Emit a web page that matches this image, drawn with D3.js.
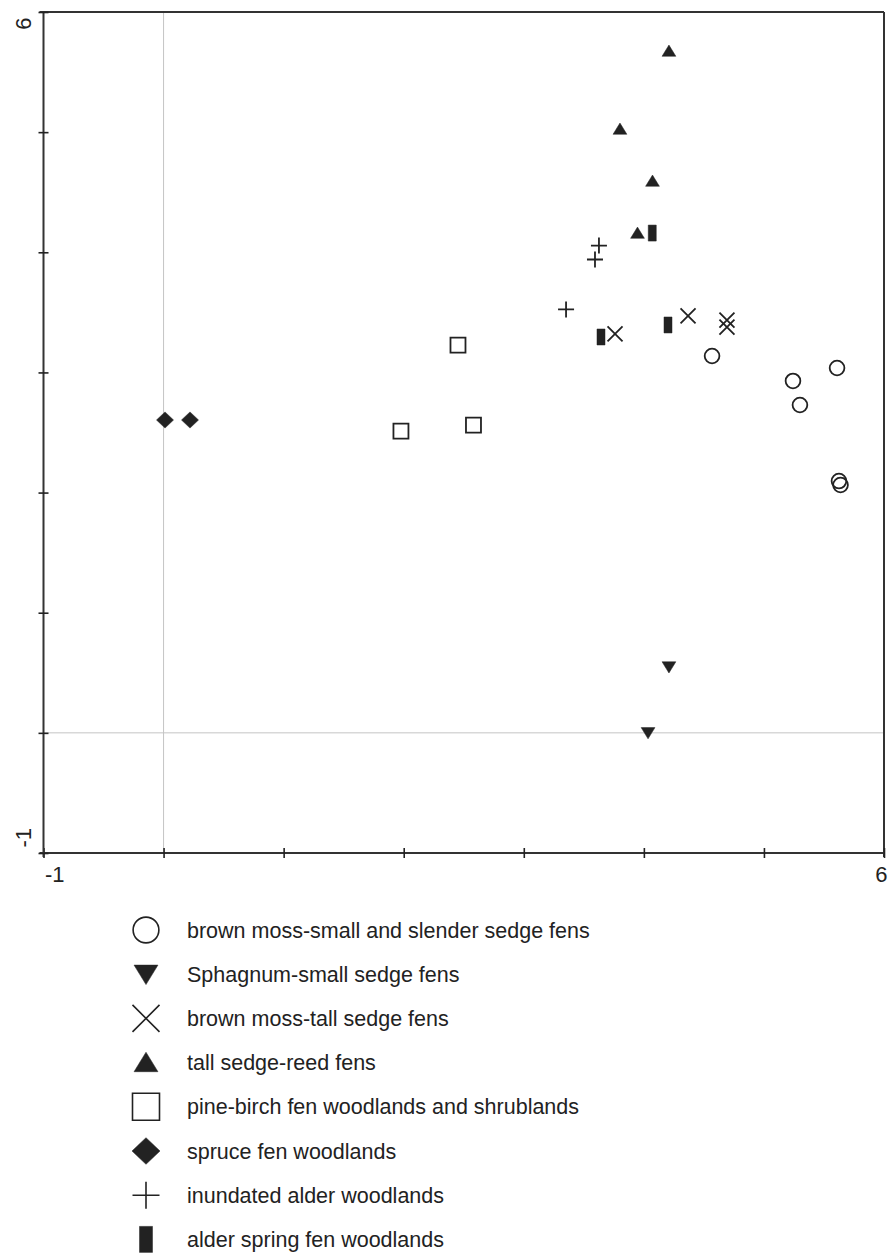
<!DOCTYPE html>
<html><head><meta charset="utf-8">
<script src="https://cdn.jsdelivr.net/npm/d3@7"></script>
<style>body{margin:0;background:#fff}svg{display:block}text{font-family:"Liberation Sans",Arial,sans-serif;fill:#222}</style>
</head><body><svg id="c" width="890" height="1253"></svg>
<script>
// ---- data ----
const groups = [
  "brown moss-small and slender sedge fens",
  "Sphagnum-small sedge fens",
  "brown moss-tall sedge fens",
  "tall sedge-reed fens",
  "pine-birch fen woodlands and shrublands",
  "spruce fen woodlands",
  "inundated alder woodlands",
  "alder spring fen woodlands"
];
const brownMossSmallX = [4.568, 5.242, 5.300, 5.609, 5.625, 5.638];
const brownMossSmallY = [3.137, 2.929, 2.729, 3.037, 2.096, 2.063];
const sphagnumX = [4.209, 4.035];
const sphagnumY = [0.548, 0.000];
const brownMossTallX = [3.760, 4.368, 4.692, 4.692];
const brownMossTallY = [3.320, 3.470, 3.436, 3.378];
const tallSedgeX = [4.209, 3.801, 4.072, 3.947];
const tallSedgeY = [5.675, 5.026, 4.593, 4.160];
const pineBirchX = [2.452, 1.977, 2.581];
const pineBirchY = [3.228, 2.512, 2.562];
const spruceX = [0.012, 0.220];
const spruceY = [2.604, 2.604];
const inundatedX = [3.626, 3.593, 3.352];
const inundatedY = [4.056, 3.940, 3.524];
const alderSpringX = [4.070, 4.201, 3.643];
const alderSpringY = [4.160, 3.395, 3.295];
const xTicks = [-1, 0, 1, 2, 3, 4, 5, 6];
const yTicks = [-1, 0, 1, 2, 3, 4, 5, 6];
const tickLabels = ["-1", "6"];

const seriesX = [brownMossSmallX, sphagnumX, brownMossTallX, tallSedgeX, pineBirchX, spruceX, inundatedX, alderSpringX];
const seriesY = [brownMossSmallY, sphagnumY, brownMossTallY, tallSedgeY, pineBirchY, spruceY, inundatedY, alderSpringY];
const shapes = ["circle", "triDown", "cross", "triUp", "square", "diamond", "plus", "rect"];

// ---- layout ----
const L = 43.5, R = 884, T = 12, B = 853;
const x = d3.scaleLinear().domain([-1, 6]).range([L, R]);
const y = d3.scaleLinear().domain([-1, 6]).range([B, T]);
const svg = d3.select("#c");
const ink = "#222";

// reference lines at 0
svg.append("line").attr("x1", x(0)).attr("x2", x(0)).attr("y1", T).attr("y2", B)
  .attr("stroke", "#c4c4c4").attr("stroke-width", 1);
svg.append("line").attr("x1", L).attr("x2", R).attr("y1", y(0)).attr("y2", y(0))
  .attr("stroke", "#c4c4c4").attr("stroke-width", 1);

// frame
svg.append("line").attr("x1", L - 4).attr("x2", R).attr("y1", T).attr("y2", T).attr("stroke", "#333").attr("stroke-width", 2);
svg.append("line").attr("x1", R).attr("x2", R).attr("y1", T).attr("y2", B + 4).attr("stroke", "#333").attr("stroke-width", 2);

// axes
const fmt = d => (d === -1 ? tickLabels[0] : d === 6 ? tickLabels[1] : "");
const xa = svg.append("g").attr("transform", `translate(0,${B})`)
  .call(d3.axisBottom(x).tickValues(xTicks).tickSize(5).tickFormat(fmt));
const ya = svg.append("g").attr("transform", `translate(${L},0)`)
  .call(d3.axisLeft(y).tickValues(yTicks).tickSize(5).tickFormat(fmt));
[xa, ya].forEach(g => {
  g.select(".domain").attr("stroke", "#333").attr("stroke-width", 2);
  g.selectAll(".tick line").attr("stroke", "#222").attr("stroke-width", 1.6);
  g.selectAll("text").attr("font-size", 22).attr("fill", "#222").attr("font-family", '"Liberation Sans",Arial,sans-serif');
});
xa.select(".domain").attr("d", `M${L - 4},0H${R}`);
ya.select(".domain").attr("d", `M0,${T}V${B + 4}`);
xa.selectAll(".tick line").attr("y1", -5).attr("y2", 5);
ya.selectAll(".tick line").attr("x1", -5).attr("x2", 5);
xa.selectAll(".tick text").attr("y", 13).attr("dy", "0.71em")
  .attr("text-anchor", d => d === -1 ? "start" : d === 6 ? "end" : "middle")
  .attr("dx", d => d === -1 ? 1 : d === 6 ? 3 : 0);
ya.selectAll(".tick text").attr("x", 0).attr("dy", 0)
  .attr("text-anchor", d => d === -1 ? "start" : "end")
  .attr("transform", d => `translate(-13,${d === -1 ? -6 : 5}) rotate(-90)`);

// ---- symbol paths ----
function sym(shape, s) {
  const h = s / 2, p = d3.path();
  switch (shape) {
    case "circle": p.moveTo(h * 0.92, 0); p.arc(0, 0, h * 0.92, 0, Math.PI * 2); break;
    case "square": p.rect(-h, -h, s, s); break;
    case "diamond": p.moveTo(0, -h * 0.95); p.lineTo(h, 0); p.lineTo(0, h * 0.95); p.lineTo(-h, 0); p.closePath(); break;
    case "triUp": p.moveTo(0, -h * 0.8); p.lineTo(h * 0.92, h * 0.7); p.lineTo(-h * 0.92, h * 0.7); p.closePath(); break;
    case "triDown": p.moveTo(0, h * 0.8); p.lineTo(h * 0.92, -h * 0.7); p.lineTo(-h * 0.92, -h * 0.7); p.closePath(); break;
    case "cross": p.moveTo(-h, -h); p.lineTo(h, h); p.moveTo(h, -h); p.lineTo(-h, h); break;
    case "plus": p.moveTo(-h, 0); p.lineTo(h, 0); p.moveTo(0, -h); p.lineTo(0, h); break;
    case "rect": p.rect(-s * 0.25, -h, s * 0.5, s); break;
  }
  return p.toString();
}
const filled = {circle: false, square: false, cross: false, plus: false, triUp: true, triDown: true, diamond: true, rect: true};
function styleSym(sel, shape, sw) {
  sel.attr("fill", filled[shape] ? ink : "none")
     .attr("stroke", ink).attr("stroke-width", filled[shape] ? 0.5 : sw)
     .attr("stroke-linejoin", "miter");
}

// ---- points ----
const plotSize = {circle: 16, square: 15, diamond: 17, triUp: 15, triDown: 15, cross: 15, plus: 16, rect: 16};
shapes.forEach((shape, i) => {
  const pts = seriesX[i].map((v, j) => [v, seriesY[i][j]]);
  svg.append("g").selectAll("path").data(pts).join("path")
    .attr("d", sym(shape, plotSize[shape]))
    .attr("transform", d => `translate(${x(d[0])},${y(d[1])})`)
    .call(styleSym, shape, 1.8);
});

// ---- legend ----
const legSize = {circle: 28, square: 27, diamond: 28, triUp: 26, triDown: 26, cross: 27, plus: 27, rect: 26};
const lg = svg.append("g");
groups.forEach((name, i) => {
  const cy = 930 + i * 44.2;
  lg.append("path").attr("d", sym(shapes[i], legSize[shapes[i]]))
    .attr("transform", `translate(146,${cy})`).call(styleSym, shapes[i], 1.6);
  lg.append("text").attr("x", 187).attr("y", cy + 7.5).attr("font-size", 21.5).text(name);
});
</script></body></html>
